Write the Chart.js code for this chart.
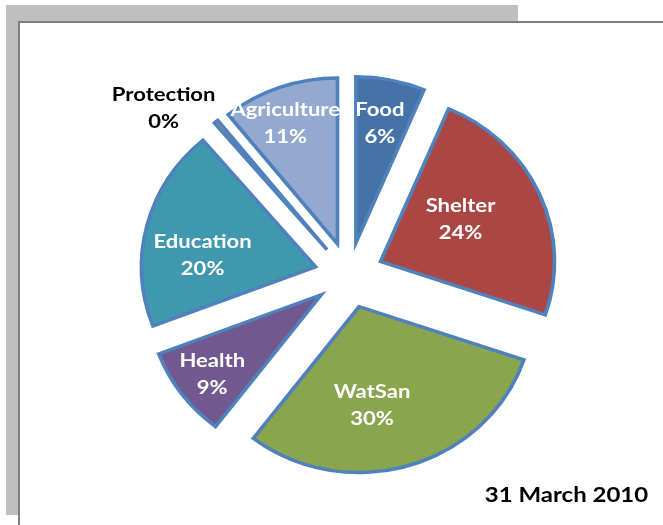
<!DOCTYPE html>
<html><head><meta charset="utf-8">
<script src="https://cdn.jsdelivr.net/npm/chart.js@4.4.1/dist/chart.umd.min.js"></script>
<style>
html,body{margin:0;padding:0;background:#fff;width:663px;height:525px;overflow:hidden;}
#shadow{position:absolute;left:6px;top:5px;width:512px;height:510px;background:#bfbfbf;}
#frame{position:absolute;left:18px;top:21px;width:700px;height:600px;background:#fff;border-left:2px solid #7f7f7f;border-top:2px solid #7f7f7f;}
#wrap{position:absolute;left:0;top:0;width:663px;height:525px;}
#date{position:absolute;right:15px;top:484px;font:bold 20px Lato;line-height:20px;color:#000;white-space:nowrap;transform:scaleX(1.2);transform-origin:right center;}
</style>
</head><body>
<div id="shadow"></div>
<div id="frame"></div>
<div id="wrap"><canvas id="c" width="663" height="525"></canvas></div>
<div id="date">31 March 2010</div>
<script>
const categories = ['Food','Shelter','WatSan','Health','Education','Protection','Agriculture'];
const shares = [6.4, 23.8, 30.2, 8.8, 19.6, 0.4, 10.8];
const sliceColors = ['#4572A7','#AA4643','#89A54E','#71588F','#4098AE','#DB843D','#93A9CF'];
const labelColors = ['#ffffff','#ffffff','#ffffff','#ffffff','#ffffff','#000000','#ffffff'];
const labelDist = [0.93, 0.75, 0.80, 1.02, 0.89, 1.5, 0.99];
const labelShift = [0, -2.3, 6.9, 0.6, -6.6, -8.5, -3.4];
const stretchX = 1.048;

// Exploded slice drawing: translate each slice outward by its offset, keep the radius uniform
Chart.ArcElement.prototype.draw = function(ctx) {
  const o = this.options;
  const {x, y, startAngle, endAngle, outerRadius, circumference} = this;
  if (!circumference || outerRadius <= 0) return;
  const mid = (startAngle + endAngle) / 2;
  const off = o.offset || 0;
  ctx.save();
  ctx.translate(x, y);
  ctx.scale(stretchX, 1);
  ctx.translate(-x, -y);
  ctx.translate(Math.cos(mid) * off, Math.sin(mid) * off);
  ctx.beginPath();
  ctx.moveTo(x, y);
  ctx.arc(x, y, outerRadius, startAngle, endAngle);
  ctx.closePath();
  ctx.fillStyle = o.backgroundColor;
  ctx.fill();
  if (o.borderWidth) {
    ctx.lineWidth = o.borderWidth;
    ctx.strokeStyle = o.borderColor;
    ctx.lineJoin = 'miter';
    ctx.miterLimit = 10;
    ctx.stroke();
  }
  ctx.restore();
};

const total = shares.reduce((a, b) => a + b, 0);

const sliceLabels = {
  id: 'sliceLabels',
  afterDatasetsDraw(chart) {
    const ctx = chart.ctx;
    const meta = chart.getDatasetMeta(0);
    ctx.save();
    ctx.font = 'bold 19px Lato';
    ctx.textAlign = 'center';
    ctx.textBaseline = 'middle';
    meta.data.forEach((arc, i) => {
      const p = arc.getProps(['x', 'y', 'startAngle', 'endAngle', 'outerRadius'], true);
      const mid = (p.startAngle + p.endAngle) / 2 + labelShift[i] * Math.PI / 180;
      const d = labelDist[i] * p.outerRadius;
      const px = p.x + Math.cos(mid) * d;
      const py = p.y + Math.sin(mid) * d;
      const pct = Math.round(shares[i] / total * 100) + '%';
      ctx.fillStyle = labelColors[i];
      ctx.save();
      ctx.translate(px, py);
      ctx.scale(1.16, 1);
      ctx.fillText(categories[i], 0, -13.5);
      ctx.fillText(pct, 0, 13.5);
      ctx.restore();
    });
    ctx.restore();
  }
};

new Chart(document.getElementById('c'), {
  type: 'pie',
  data: {
    labels: categories,
    datasets: [{
      data: shares,
      backgroundColor: sliceColors,
      borderColor: '#4F81BD',
      borderWidth: 3.5,
      offset: 33,
      hoverOffset: 0
    }]
  },
  options: {
    responsive: false,
    animation: false,
    radius: 166,
    layout: {padding: {left: 35, top: 25, right: 0, bottom: 0}},
    plugins: {legend: {display: false}, tooltip: {enabled: false}},
    events: []
  },
  plugins: [sliceLabels]
});
</script>
</body></html>
